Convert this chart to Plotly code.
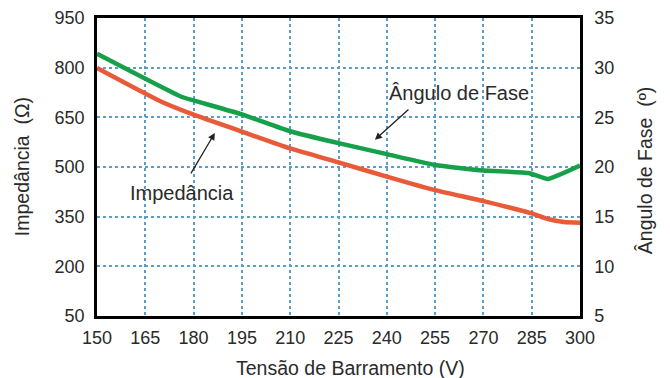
import plotly.graph_objects as go

# Bus voltage (V) sample points
tensao_imp = [150, 170, 180, 195, 210, 225, 240, 255, 270, 285, 290, 295, 300]
impedancia = [799, 697, 658, 607, 556, 514, 471, 430, 397, 360, 343, 334, 332]

tensao_ang = [150, 176, 180, 195, 210, 225, 240, 255, 270, 284, 290, 300]
angulo = [31.4, 27.1, 26.7, 25.3, 23.6, 22.4, 21.3, 20.2, 19.65, 19.4, 18.8, 20.15]

x_ticks = list(range(150, 301, 15))
y_ticks = list(range(50, 951, 150))
y2_ticks = list(range(5, 36, 5))

FONT = "Liberation Sans, Arial, sans-serif"
TXT = "#2a2a2a"
GRID = "#5b9ec9"
TITLE_SIZE = 19.5

fig = go.Figure()
fig.add_trace(go.Scatter(x=tensao_imp, y=impedancia, mode="lines",
                         line=dict(color="#e95a38", width=4.5, shape="spline", smoothing=0.5),
                         yaxis="y", showlegend=False, hoverinfo="skip"))
fig.add_trace(go.Scatter(x=tensao_ang, y=angulo, mode="lines",
                         line=dict(color="#17a04a", width=4.5, shape="spline", smoothing=0.4),
                         yaxis="y2", showlegend=False, hoverinfo="skip"))

axis_common = dict(showline=True, linecolor="black", linewidth=2.5, mirror=True,
                   ticks="", tickfont=dict(family=FONT, size=18, color=TXT),
                   zeroline=False, automargin=False)

fig.update_layout(
    width=670, height=378,
    margin=dict(l=97, r=90, t=18, b=62),
    paper_bgcolor="white", plot_bgcolor="white",
    font=dict(family=FONT, color=TXT),
    xaxis=dict(range=[150, 300], tickvals=x_ticks, showgrid=True,
               gridcolor=GRID, griddash="dot", gridwidth=1.5,
               ticklabelstandoff=4, **axis_common),
    yaxis=dict(range=[50, 950], tickvals=y_ticks, showgrid=True,
               gridcolor=GRID, griddash="dot", gridwidth=1.5,
               ticklabelstandoff=6, **axis_common),
    yaxis2=dict(range=[5, 35], tickvals=y2_ticks, overlaying="y", side="right",
                showgrid=False, ticklabelstandoff=8, **axis_common),
)

# Axis titles
title_font = dict(family=FONT, size=TITLE_SIZE, color=TXT)
fig.add_annotation(x=0.524, y=-0.175, xref="paper", yref="paper",
                   text="Tensão de Barramento (V)", showarrow=False,
                   xanchor="center", yanchor="middle", font=title_font)
fig.add_annotation(x=-0.155, y=0.5, xref="paper", yref="paper",
                   text="Impedância  (Ω)", showarrow=False, textangle=-90,
                   xanchor="center", yanchor="middle", font=title_font)
fig.add_annotation(x=1.135, y=0.49, xref="paper", yref="paper",
                   text="Ângulo de Fase  (º)", showarrow=False, textangle=-90,
                   xanchor="center", yanchor="middle", font=title_font)

# Curve labels with pointer arrows
fig.add_annotation(x=186.6, y=603, ax=178.9, ay=476, xref="x", yref="y",
                   axref="x", ayref="y", text="", showarrow=True,
                   arrowhead=2, arrowsize=1.1, arrowwidth=1.3, arrowcolor="#222")
fig.add_annotation(x=176.4, y=421, xref="x", yref="y", text="Impedância",
                   showarrow=False, font=dict(family=FONT, size=20, color=TXT))
fig.add_annotation(x=236.3, y=582, ax=247.2, ay=678, xref="x", yref="y",
                   axref="x", ayref="y", text="", showarrow=True,
                   arrowhead=2, arrowsize=1.1, arrowwidth=1.3, arrowcolor="#222")
fig.add_annotation(x=262.4, y=723, xref="x", yref="y", text="Ângulo de Fase",
                   showarrow=False, font=dict(family=FONT, size=20, color=TXT))

fig.write_html("out.html")
